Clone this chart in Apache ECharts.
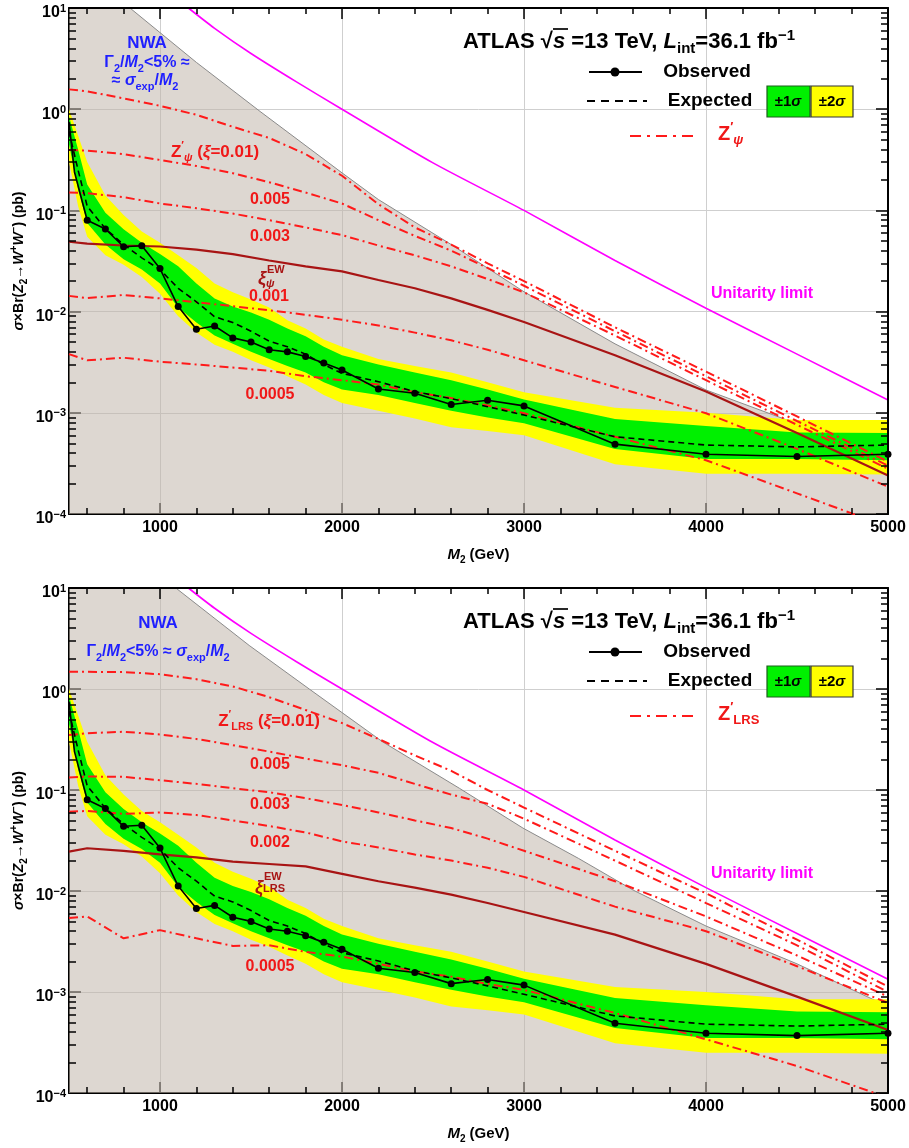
<!DOCTYPE html>
<html><head><meta charset="utf-8">
<script src="https://cdn.jsdelivr.net/npm/echarts@6/dist/echarts.min.js"></script>
<style>html,body{margin:0;padding:0;background:#fff}#c{width:909px;height:1148px}</style>
</head><body><div id="c"></div>
<script>
// ---------------- DATA ----------------
const massObserved = [500, 530, 600, 700, 800, 900, 1000, 1100, 1200, 1300, 1400, 1500, 1600, 1700, 1800, 1900, 2000, 2200, 2400, 2600, 2800, 3000, 3500, 4000, 4500, 5000];
const observed = [0.75, 0.24, 0.080, 0.0655, 0.0437, 0.0448, 0.0266, 0.0112, 0.0067, 0.0072, 0.0055, 0.0050, 0.0042, 0.0040, 0.0036, 0.0031, 0.00265, 0.00172, 0.00156, 0.00121, 0.00133, 0.00117, 0.00049, 0.00039, 0.00037, 0.00039];

const massBand = [500, 550, 600, 700, 800, 900, 1000, 1100, 1200, 1300, 1400, 1500, 1600, 1700, 1800, 1900, 2000, 2200, 2400, 2600, 2800, 3000, 3500, 4000, 4500, 5000];
const expected = [0.6, 0.25, 0.11, 0.066, 0.046, 0.034, 0.026, 0.017, 0.0125, 0.0089, 0.0078, 0.0064, 0.0051, 0.0045, 0.0038, 0.0030, 0.00245, 0.00203, 0.00162, 0.00138, 0.00115, 0.00095, 0.00058, 0.00048, 0.00046, 0.00048];
const green1Hi = [0.85, 0.4, 0.18, 0.095, 0.065, 0.048, 0.037, 0.028, 0.019, 0.0135, 0.0112, 0.0098, 0.0083, 0.0068, 0.0057, 0.0045, 0.0037, 0.0030, 0.0025, 0.0021, 0.0017, 0.00135, 0.00087, 0.00074, 0.00064, 0.00063];
const green1Lo = [0.45, 0.16, 0.075, 0.046, 0.033, 0.026, 0.019, 0.011, 0.0078, 0.0058, 0.0048, 0.0040, 0.0034, 0.0029, 0.0025, 0.0020, 0.0017, 0.0015, 0.00125, 0.00105, 0.0009, 0.00079, 0.00044, 0.00035, 0.00035, 0.00034];
const yellow2Hi = [1.0, 0.55, 0.30, 0.14, 0.09, 0.062, 0.048, 0.036, 0.027, 0.019, 0.0155, 0.0132, 0.011, 0.0082, 0.0068, 0.0053, 0.0045, 0.0034, 0.0029, 0.0025, 0.0020, 0.0016, 0.00112, 0.00100, 0.00085, 0.00085];
const yellow2Lo = [0.3, 0.11, 0.055, 0.036, 0.029, 0.022, 0.015, 0.009, 0.0062, 0.0047, 0.0040, 0.0033, 0.0028, 0.0023, 0.0019, 0.0015, 0.00125, 0.00105, 0.00088, 0.00072, 0.00066, 0.0006, 0.00031, 0.00025, 0.00025, 0.000245];

const massNWA1 = [500, 835, 1200, 1550, 2000, 2200, 2600, 3000, 3500, 4000, 4500, 5000];
const nwa1 = [35, 10, 2.9, 0.95, 0.235, 0.128, 0.046, 0.0157, 0.0048, 0.00168, 0.00078, 0.00034];
const massNWA2 = [500, 1087, 1490, 1820, 2223, 2645, 2994, 3300, 3600, 4000, 4500, 5000];
const nwa2 = [80, 10, 2.7, 1.0, 0.30, 0.104, 0.042, 0.021, 0.0102, 0.0045, 0.0019, 0.00072];

const massUnitarity = [1156, 1300, 1500, 1750, 2000, 2500, 3000, 3500, 4000, 4500, 5000];
const unitarity = [10, 6.3, 3.55, 1.86, 1.0, 0.295, 0.10, 0.032, 0.0108, 0.0038, 0.00134];

const massXi = [500, 600, 800, 1000, 1200, 1400, 1600, 1800, 2000, 2200, 2400, 2600, 2800, 3000, 3500, 4000, 4500, 5000];
const psi010 = [1.57, 1.50, 1.28, 1.08, 0.88, 0.67, 0.52, 0.36, 0.22, 0.115, 0.068, 0.046, 0.030, 0.020, 0.0070, 0.00255, 0.00092, 0.00033];
const psi005 = [0.395, 0.39, 0.36, 0.315, 0.275, 0.233, 0.19, 0.15, 0.117, 0.08, 0.056, 0.040, 0.027, 0.018, 0.0064, 0.0023, 0.00083, 0.00030];
const psi003 = [0.15, 0.148, 0.135, 0.117, 0.105, 0.093, 0.080, 0.068, 0.057, 0.045, 0.036, 0.028, 0.021, 0.0155, 0.0058, 0.0021, 0.00076, 0.00028];
const psi001 = [0.0143, 0.0136, 0.0146, 0.0135, 0.0124, 0.0113, 0.0103, 0.0093, 0.0083, 0.0073, 0.0062, 0.0052, 0.0042, 0.0033, 0.0018, 0.00099, 0.00044, 0.000186];
const psi0005 = [0.0038, 0.0033, 0.0035, 0.0032, 0.0030, 0.0028, 0.0026, 0.0023, 0.0021, 0.0019, 0.0016, 0.0014, 0.00118, 0.00099, 0.00058, 0.00034, 0.00016, 0.000075];
const psiEW = [0.049, 0.047, 0.045, 0.044, 0.041, 0.037, 0.032, 0.028, 0.025, 0.0205, 0.017, 0.0135, 0.0104, 0.0079, 0.0037, 0.00162, 0.00063, 0.00024];

const lrs010 = [1.48, 1.48, 1.47, 1.40, 1.25, 1.06, 0.83, 0.62, 0.46, 0.32, 0.22, 0.155, 0.10, 0.067, 0.025, 0.0095, 0.0033, 0.00113];
const lrs005 = [0.35, 0.365, 0.377, 0.355, 0.32, 0.278, 0.24, 0.205, 0.176, 0.148, 0.115, 0.09, 0.073, 0.052, 0.020, 0.0076, 0.0029, 0.0010];
const lrs003 = [0.133, 0.136, 0.135, 0.125, 0.115, 0.104, 0.095, 0.083, 0.071, 0.060, 0.050, 0.042, 0.033, 0.025, 0.0125, 0.0056, 0.0023, 0.0009];
const lrs002 = [0.061, 0.062, 0.058, 0.060, 0.0565, 0.050, 0.044, 0.038, 0.031, 0.027, 0.023, 0.020, 0.017, 0.0138, 0.0070, 0.0040, 0.0018, 0.00078];
const lrs0005 = [0.0054, 0.0056, 0.0034, 0.0041, 0.0034, 0.00286, 0.0029, 0.0025, 0.00224, 0.0019, 0.0016, 0.00142, 0.0012, 0.00105, 0.00062, 0.00034, 0.000185, 0.00009];
const lrsEW = [0.0245, 0.0265, 0.025, 0.023, 0.0215, 0.0195, 0.0185, 0.0175, 0.0148, 0.0125, 0.0108, 0.0092, 0.0076, 0.0062, 0.0037, 0.0019, 0.0009, 0.00042];

const xTickMajor = [1000, 2000, 3000, 4000, 5000];
const xTickMinor = [600, 800, 1200, 1400, 1600, 1800, 2200, 2400, 2600, 2800, 3200, 3400, 3600, 3800, 4200, 4400, 4600, 4800];
const yTickMajor = [1e-4, 1e-3, 1e-2, 1e-1, 1, 10];
const yTickMinor = [];
[1e-4, 1e-3, 1e-2, 1e-1, 1].forEach(d => { for (let k = 2; k <= 9; k++) yTickMinor.push(+(k * d).toPrecision(3)); });

// ---------------- STYLE ----------------
const FONT = '"Liberation Sans", Arial, Helvetica, sans-serif';
const RED = '#ff1a1a', RED_T = '#f01818', DARKRED = '#a81414', MAG = '#ff00ff', BLUE = '#1f1fff';
const BEIGE = 'rgba(193,182,171,0.55)';
const GRIDC = '#cfcfcf';

function pair(xs, ys) { return xs.map((x, i) => [x, ys[i]]); }

function xAxesFor(g) {
  const base = { type: 'value', gridIndex: g, min: 500, max: 5000, z: 10 };
  const tickStyle = { color: '#000', width: 1.5 };
  return [
    Object.assign({}, base, {
      position: 'bottom', z: 0,
      axisLine: { onZero: false, lineStyle: { color: '#000', width: 2 } },
      axisTick: { inside: true, length: 11, customValues: xTickMajor, lineStyle: tickStyle },
      axisLabel: { customValues: xTickMajor, margin: 6, fontSize: 16, fontWeight: 'bold', fontFamily: FONT, color: '#000', formatter: v => String(v) },
      splitLine: { show: true, lineStyle: { color: GRIDC, width: 1 } },
      name: '{i|M}{s|2}{b| (GeV)}', nameLocation: 'middle', nameGap: 31, nameMoveOverlap: false,
      nameTextStyle: { rich: {
        i: { fontSize: 15, fontWeight: 'bold', fontStyle: 'italic', fontFamily: FONT, color: '#000', lineHeight: 20 },
        b: { fontSize: 15, fontWeight: 'bold', fontFamily: FONT, color: '#000', lineHeight: 20 },
        s: { fontSize: 10, fontWeight: 'bold', fontFamily: FONT, color: '#000', lineHeight: 12, verticalAlign: 'bottom' } } }
    }),
    Object.assign({}, base, { position: 'bottom', axisLine: { show: false, onZero: false }, axisTick: { inside: true, length: 6, customValues: xTickMinor, lineStyle: tickStyle }, axisLabel: { show: false }, splitLine: { show: false } }),
    Object.assign({}, base, { position: 'top', axisLine: { onZero: false, lineStyle: { color: '#000', width: 2 } }, axisTick: { inside: true, length: 11, customValues: xTickMajor, lineStyle: tickStyle }, axisLabel: { show: false }, splitLine: { show: false } }),
    Object.assign({}, base, { position: 'top', axisLine: { show: false, onZero: false }, axisTick: { inside: true, length: 6, customValues: xTickMinor, lineStyle: tickStyle }, axisLabel: { show: false }, splitLine: { show: false } })
  ];
}

function yAxesFor(g) {
  const base = { type: 'log', logBase: 10, gridIndex: g, min: 1e-4, max: 10, z: 10 };
  const tickStyle = { color: '#000', width: 1.5 };
  return [
    Object.assign({}, base, {
      position: 'left', z: 0,
      axisLine: { onZero: false, lineStyle: { color: '#000', width: 2 } },
      axisTick: { inside: true, length: 12, customValues: yTickMajor, lineStyle: tickStyle },
      axisLabel: {
        customValues: yTickMajor, margin: 3, padding: [10, 0, 0, 0],
        formatter: v => { const n = Math.round(Math.log10(v)); return '{b|10}{s|' + (n < 0 ? '\u2212' + (-n) : n) + '}'; },
        rich: {
          b: { fontSize: 16, fontWeight: 'bold', fontFamily: FONT, color: '#000', lineHeight: 20 },
          s: { fontSize: 11, fontWeight: 'bold', fontFamily: FONT, color: '#000', lineHeight: 8, verticalAlign: 'top' }
        }
      },
      splitLine: { show: true, lineStyle: { color: GRIDC, width: 1 } },
      name: '{i|\u03c3}{b|\u00d7Br(}{i|Z}{s|2}{b|\u2192}{i|W}{u|+}{i|W}{u|\u2212}{b|) (pb)}',
      nameLocation: 'middle', nameGap: 40, nameRotate: 90, nameMoveOverlap: false,
      nameTextStyle: { rich: {
        i: { fontSize: 14, fontWeight: 'bold', fontStyle: 'italic', fontFamily: FONT, color: '#000', lineHeight: 20 },
        b: { fontSize: 14, fontWeight: 'bold', fontFamily: FONT, color: '#000', lineHeight: 20 },
        s: { fontSize: 10, fontWeight: 'bold', fontFamily: FONT, color: '#000', lineHeight: 11, verticalAlign: 'bottom' },
        u: { fontSize: 10, fontWeight: 'bold', fontFamily: FONT, color: '#000', lineHeight: 9, verticalAlign: 'top' } } }
    }),
    Object.assign({}, base, { position: 'left', axisLine: { show: false, onZero: false }, axisTick: { inside: true, length: 7, customValues: yTickMinor, lineStyle: tickStyle }, axisLabel: { show: false }, splitLine: { show: false } }),
    Object.assign({}, base, { position: 'right', axisLine: { onZero: false, lineStyle: { color: '#000', width: 2 } }, axisTick: { inside: true, length: 12, customValues: yTickMajor, lineStyle: tickStyle }, axisLabel: { show: false }, splitLine: { show: false } }),
    Object.assign({}, base, { position: 'right', axisLine: { show: false, onZero: false }, axisTick: { inside: true, length: 7, customValues: yTickMinor, lineStyle: tickStyle }, axisLabel: { show: false }, splitLine: { show: false } })
  ];
}

function S(g, xs, ys, lineStyle, extra) {
  return Object.assign({ type: 'line', xAxisIndex: 4 * g, yAxisIndex: 4 * g, data: pair(xs, ys), symbol: 'none', silent: true, clip: true, smooth: false, z: 5, lineStyle: Object.assign({}, lineStyle), animation: false }, extra || {});
}

// band between two curves drawn as one polygon through the axes' scales
function band(g, xs, lo, hi, color, z) {
  return {
    type: 'custom', coordinateSystem: 'cartesian2d', xAxisIndex: 4 * g, yAxisIndex: 4 * g,
    silent: true, clip: true, animation: false, z: z,
    data: [[xs[0], lo[0]]],
    renderItem: function (params, api) {
      const up = xs.map((x, i) => api.coord([x, hi[i]]));
      const dn = xs.map((x, i) => api.coord([x, lo[i]])).reverse();
      const cs = params.coordSys;
      return {
        type: 'polygon', shape: { points: up.concat(dn) }, style: { fill: color, stroke: null },
        clipPath: { type: 'rect', shape: { x: cs.x, y: cs.y, width: cs.width, height: cs.height } }
      };
    }
  };
}

const dashDot = { color: RED, width: 2, type: [9, 4, 2, 4] };

function panelSeries(g, massNWA, nwa, curves, ew) {
  const out = [];
  out.push(S(g, massNWA, nwa, { color: '#8a8a8a', width: 1 }, { z: 1, areaStyle: { color: BEIGE, opacity: 1, origin: 'start' } }));
  out.push(band(g, massBand, yellow2Lo, yellow2Hi, '#ffff00', 2));
  out.push(band(g, massBand, green1Lo, green1Hi, '#00f000', 3));
  curves.forEach(c => out.push(S(g, massXi, c, dashDot)));
  out.push(S(g, massXi, ew, { color: DARKRED, width: 2.2 }));
  out.push(S(g, massUnitarity, unitarity, { color: MAG, width: 1.6 }, { smooth: 0.25 }));
  out.push(S(g, massBand, expected, { color: '#000', width: 1.6, type: [6, 4] }, { z: 6 }));
  out.push(S(g, massObserved, observed, { color: '#000', width: 1.6 }, {
    z: 7, symbol: 'circle', showSymbol: true, itemStyle: { color: '#000' },
    symbolSize: (v, p) => (p.dataIndex <= 1 ? 0 : 7)
  }));
  return out;
}

// ---------------- TEXT / LEGEND GRAPHICS ----------------
function fnt(size, italic) { return (italic ? 'italic ' : '') + 'bold ' + size + 'px ' + FONT; }
function rs(size, color) {
  const sm = Math.round(size * 0.66);
  return {
    b: { font: fnt(size), fill: color, lineHeight: size + 6 },
    i: { font: fnt(size, true), fill: color, lineHeight: size + 6 },
    sub: { font: fnt(sm), fill: color, lineHeight: 12, verticalAlign: 'bottom' },
    isub: { font: fnt(sm, true), fill: color, lineHeight: 12, verticalAlign: 'bottom' },
    sup: { font: fnt(sm), fill: color, lineHeight: 10, verticalAlign: 'top' }
  };
}
const G = [];
function T(x, y, text, size, color, align) {
  G.push({ type: 'text', x: x, y: y, z: 100, silent: true,
    style: { text: text, rich: rs(size, color), font: fnt(size), fill: color,
      align: align || 'center', verticalAlign: 'middle', textAlign: align || 'center', textVerticalAlign: 'middle' } });
}
function L(x1, y1, x2, y2, color, w, dash) {
  G.push({ type: 'line', z: 100, silent: true, shape: { x1, y1, x2, y2 }, style: { stroke: color, lineWidth: w, lineDash: dash || null } });
}

function commonLegend(oy, zLabel) {
  T(463, 42 + oy, '{b|ATLAS }{b|\u221a}{i|s}{b| =13 TeV, }{i|L}{sub|int}{b|=36.1 fb}{sup|\u22121}', 22, '#000', 'left');
  L(553, 29 + oy, 568, 29 + oy, '#000', 1.7);
  L(589, 72 + oy, 642, 72 + oy, '#000', 2);
  G.push({ type: 'circle', z: 101, silent: true, shape: { cx: 615, cy: 72 + oy, r: 4.5 }, style: { fill: '#000' } });
  T(707, 72 + oy, '{b|Observed}', 19, '#000');
  L(587, 101 + oy, 647, 101 + oy, '#000', 2, [8, 6]);
  T(710, 101 + oy, '{b|Expected}', 19, '#000');
  G.push({ type: 'rect', z: 100, silent: true, shape: { x: 767, y: 86 + oy, width: 43, height: 31 }, style: { fill: '#00f000', stroke: '#1c5e1c', lineWidth: 1.2 } });
  G.push({ type: 'rect', z: 100, silent: true, shape: { x: 811, y: 86 + oy, width: 42, height: 31 }, style: { fill: '#ffff00', stroke: '#333', lineWidth: 1.2 } });
  T(788, 102 + oy, '{b|\u00b11}{i|\u03c3}', 15, '#000');
  T(832, 102 + oy, '{b|\u00b12}{i|\u03c3}', 15, '#000');
  L(630, 136 + oy, 697, 136 + oy, RED, 2.2, [11, 6, 3, 6]);
  T(718, 134 + oy, zLabel, 20, RED_T, 'left');
}

commonLegend(0, '{b|Z}{sup|\u2032}{isub|\u03c8}');
T(147, 43, '{b|NWA}', 17, BLUE);
T(147, 63, '{b|\u0393}{sub|2}{b|/}{i|M}{sub|2}{b|<5% \u2248}', 16, BLUE);
T(145, 81, '{b|\u2248 }{i|\u03c3}{sub|exp}{b|/}{i|M}{sub|2}', 16, BLUE);
T(215, 152, '{b|Z}{sup|\u2032}{isub|\u03c8}{b| (}{i|\u03be}{b|=0.01)}', 17, RED_T);
T(270, 200, '{b|0.005}', 16, RED_T);
T(270, 237, '{b|0.003}', 16, RED_T);
T(269, 297, '{b|0.001}', 16, RED_T);
T(270, 395, '{b|0.0005}', 16, RED_T);
T(262, 279, '{i|\u03be}', 18, DARKRED);
T(267, 270, '{b|EW}', 11, DARKRED, 'left');
T(266, 284, '{i|\u03c8}', 11, DARKRED, 'left');
T(762, 294, '{b|Unitarity limit}', 16, MAG);

commonLegend(580, '{b|Z}{sup|\u2032}{sub|LRS}');
T(158, 623, '{b|NWA}', 17, BLUE);
T(158, 652, '{b|\u0393}{sub|2}{b|/}{i|M}{sub|2}{b|<5% \u2248 }{i|\u03c3}{sub|exp}{b|/}{i|M}{sub|2}', 16, BLUE);
T(269, 721, '{b|Z}{sup|\u2032}{sub|LRS}{b| (}{i|\u03be}{b|=0.01)}', 17, RED_T);
T(270, 765, '{b|0.005}', 16, RED_T);
T(270, 805, '{b|0.003}', 16, RED_T);
T(270, 843, '{b|0.002}', 16, RED_T);
T(270, 967, '{b|0.0005}', 16, RED_T);
T(259, 888, '{i|\u03be}', 18, DARKRED);
T(264, 877, '{b|EW}', 11, DARKRED, 'left');
T(263, 889, '{b|LRS}', 11, DARKRED, 'left');
T(762, 874, '{b|Unitarity limit}', 16, MAG);

// ---------------- CHART ----------------
const chart = echarts.init(document.getElementById('c'), null, { renderer: 'canvas', width: 909, height: 1148 });
chart.setOption({
  animation: false,
  backgroundColor: '#fff',
  grid: [
    { left: 69, top: 8, width: 819, height: 506, outerBoundsMode: 'none', containLabel: false },
    { left: 69, top: 588, width: 819, height: 505, outerBoundsMode: 'none', containLabel: false }
  ],
  xAxis: xAxesFor(0).concat(xAxesFor(1)),
  yAxis: yAxesFor(0).concat(yAxesFor(1)),
  series: panelSeries(0, massNWA1, nwa1, [psi010, psi005, psi003, psi001, psi0005], psiEW)
    .concat(panelSeries(1, massNWA2, nwa2, [lrs010, lrs005, lrs003, lrs002, lrs0005], lrsEW)),
  graphic: { elements: G }
});
</script>
</body></html>
